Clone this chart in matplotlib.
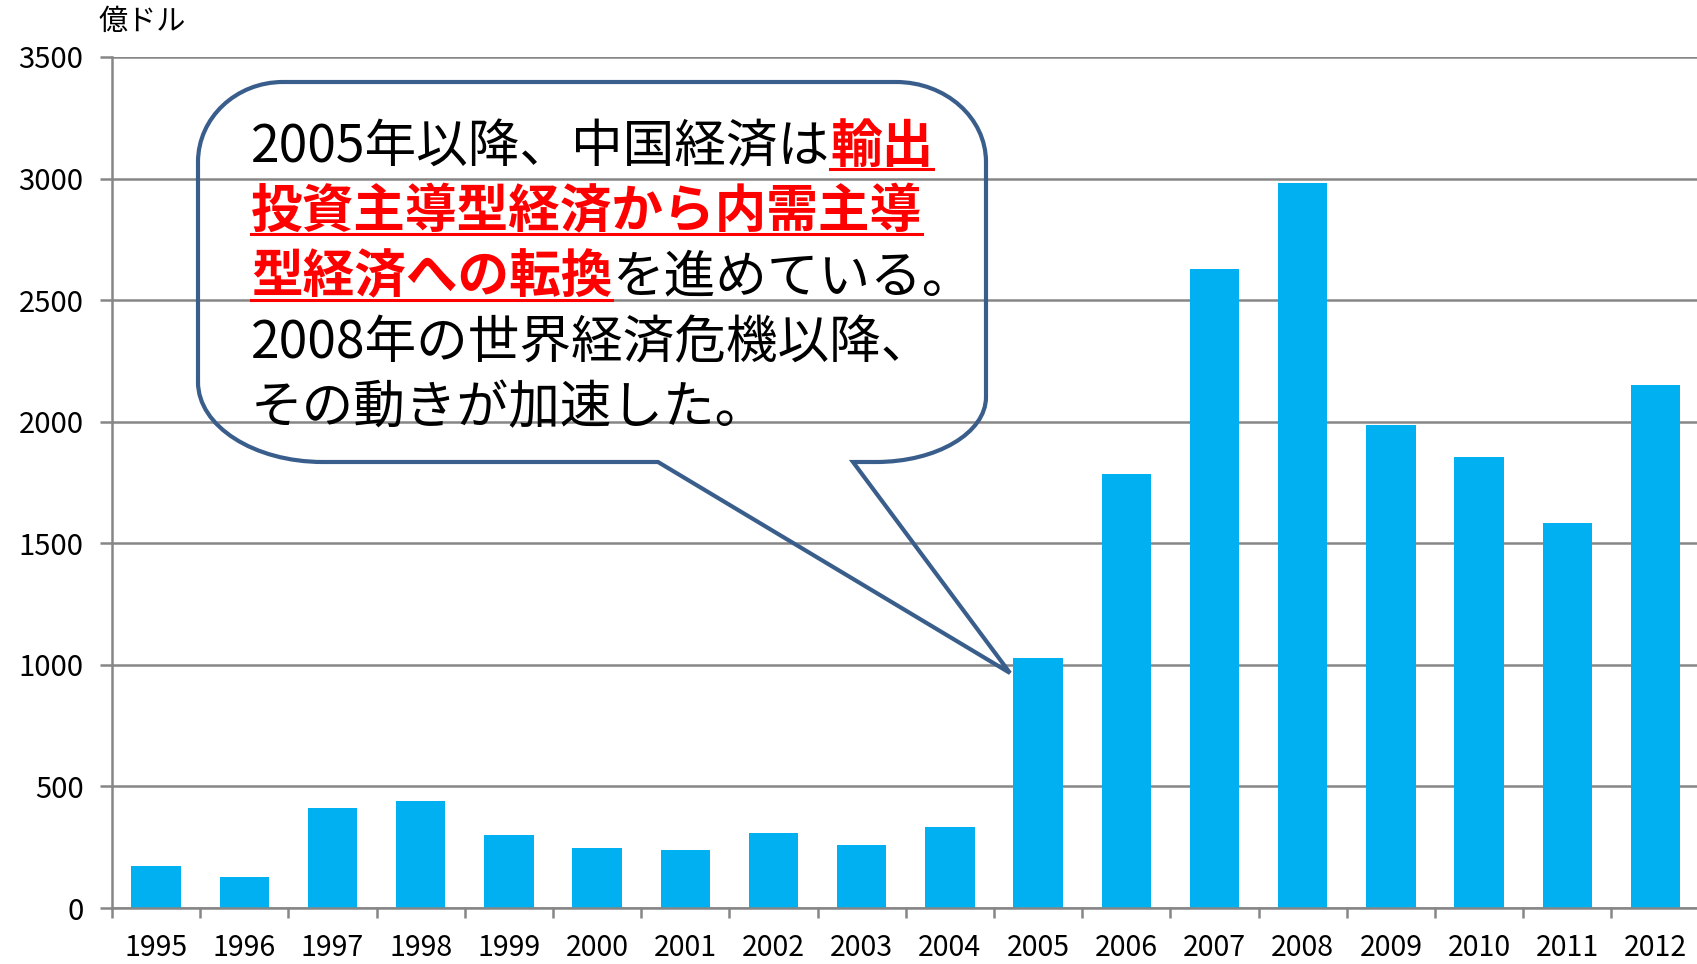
import matplotlib
matplotlib.use('Agg')
import matplotlib.pyplot as plt
import matplotlib.patches as mpatches
from matplotlib.path import Path
from matplotlib.lines import Line2D
import numpy as np

plt.rcParams['font.family'] = ['Noto Sans CJK JP', 'DejaVu Sans']

# ---- data ----
years = [str(y) for y in range(1995, 2013)]
values = [174, 128, 412, 441, 301, 247, 239, 309, 260, 334,
          1028, 1786, 2627, 2981, 1987, 1856, 1585, 2153]
unit_label = '億ドル'

# bubble text, each line = list of (text, highlighted)
bubble_lines = [
    [('2005年以降、中国経済は', False), ('輸出', True)],
    [('投資主導型経済から内需主導', True)],
    [('型経済への転換', True), ('を進めている。', False)],
    [('2008年の世界経済危機以降、', False)],
    [('その動きが加速した。', False)],
]

W, H = 1697, 964
grid_col = '#868686'
bar_col = '#00B0F0'
bubble_col = '#3A5E8C'

fig = plt.figure(figsize=(W / 100, H / 100), dpi=100)
ax = fig.add_axes([112 / W, 1 - 908 / H, 18 * 88.2 / W, (908 - 57) / H])

x = np.arange(len(years))
ax.bar(x, values, width=0.56, color=bar_col, zorder=2)
ax.set_xlim(-0.5, len(years) - 0.5)
ax.set_ylim(0, 3500)
ax.set_yticks(range(0, 3501, 500))
ax.yaxis.grid(True, color=grid_col, linewidth=1.8)
ax.set_axisbelow(True)

for s in ['top', 'right']:
    ax.spines[s].set_visible(False)
for s in ['left', 'bottom']:
    ax.spines[s].set_color(grid_col)
    ax.spines[s].set_linewidth(1.8)

# ticks between categories, labels centred
ax.set_xticks(np.arange(-0.5, len(years)))
ax.set_xticklabels([])
ax.set_xticks(x, years, minor=True)
ax.tick_params(axis='x', which='major', direction='out', length=7.5, width=1.8, color=grid_col)
ax.tick_params(axis='x', which='minor', length=0, labelsize=20.5, pad=18)
ax.tick_params(axis='y', direction='out', length=8.5, width=1.8, color=grid_col, labelsize=21, pad=12)

fig.text(98 / W, 1 - 22 / H, unit_label, fontsize=21, ha='left', va='center')

# ---- speech bubble (figure pixel coords, y down) ----
L, R, T, B = 198, 986, 82, 462
base_l, base_r, tip = (658, B), (853, B), (1010, 673)
k = 0.5523


def corner(a, c, b):
    # cubic bezier quarter from a to b with corner c
    return [(a[0] + k * (c[0] - a[0]), a[1] + k * (c[1] - a[1])),
            (b[0] + k * (c[0] - b[0]), b[1] + k * (c[1] - b[1])), b]


verts = [base_l, (L + 125, B)]
codes = [Path.MOVETO, Path.LINETO]
verts += corner((L + 125, B), (L, B), (L, B - 80)); codes += [Path.CURVE4] * 3
verts += [(L, T + 80)]; codes += [Path.LINETO]
verts += corner((L, T + 80), (L, T), (L + 85, T)); codes += [Path.CURVE4] * 3
verts += [(R - 90, T)]; codes += [Path.LINETO]
verts += corner((R - 90, T), (R, T), (R, T + 80)); codes += [Path.CURVE4] * 3
verts += [(R, B - 65)]; codes += [Path.LINETO]
verts += corner((R, B - 65), (R, B), (R - 110, B)); codes += [Path.CURVE4] * 3
verts += [base_r, tip, base_l]; codes += [Path.LINETO, Path.LINETO, Path.CLOSEPOLY]

verts = [(vx / W, 1 - vy / H) for vx, vy in verts]
bubble = mpatches.PathPatch(Path(verts, codes), transform=fig.transFigure,
                            facecolor='none', edgecolor=bubble_col, linewidth=3.0,
                            joinstyle='miter')
fig.add_artist(bubble)

renderer = fig.canvas.get_renderer()
for i, line in enumerate(bubble_lines):
    xpix = 251
    ybase = 162 + 65.3 * i
    for seg, hl in line:
        t = fig.text(xpix / W, 1 - ybase / H, seg, fontsize=37.2,
                     color='#FF0000' if hl else 'black',
                     fontweight='bold' if hl else 'normal',
                     ha='left', va='baseline')
        bb = t.get_window_extent(renderer)
        if hl:
            yl = 1 - (ybase + 7) / H
            fig.add_artist(Line2D([bb.x0 / W, bb.x1 / W], [yl, yl],
                                  transform=fig.transFigure, color='#FF0000', linewidth=2.2))
        xpix += bb.width

fig.savefig('out.png', dpi=100)
